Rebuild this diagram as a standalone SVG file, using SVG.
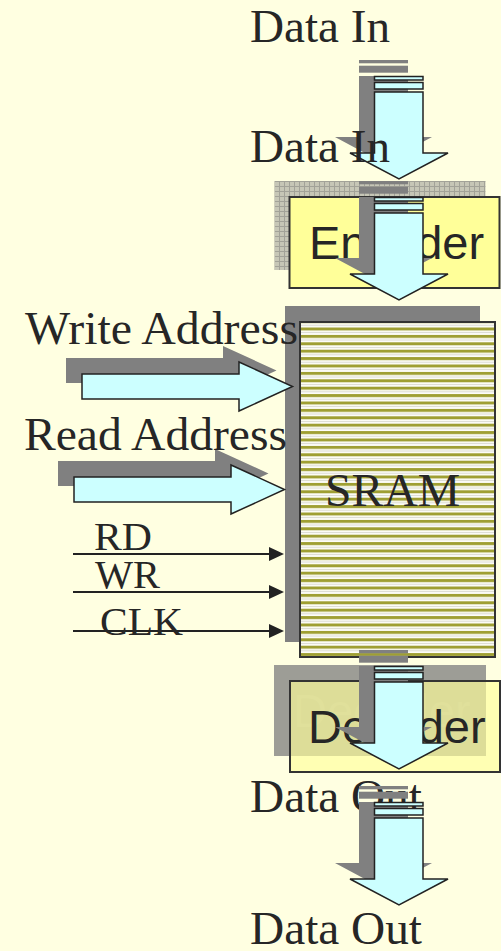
<svg xmlns="http://www.w3.org/2000/svg" xmlns:xlink="http://www.w3.org/1999/xlink" width="501" height="951" viewBox="0 0 501 951">
  <style>
    .serif { font-family: "Liberation Serif", "Times New Roman", serif; fill: #262626; }
    .big { font-size: 47px; }
    .small { font-size: 40px; }
    .sans { font-family: "Liberation Sans", Arial, sans-serif; font-size: 47px; fill: #262626; }
    .light { fill: #ccffff; stroke: #222; stroke-width: 1.5; stroke-linejoin: miter; }
    .shade { fill: #808080; }
    .box { stroke: #333; stroke-width: 2; }
    .ctl { stroke: #222; stroke-width: 2; fill: none; }
  </style>
  <defs>
    <!-- striped fill of the memory block -->
    <pattern id="stripes" patternUnits="userSpaceOnUse" x="0" y="327.5" width="10" height="7.4">
      <rect width="10" height="7.4" fill="#fdfdf8"/>
      <rect y="0" width="10" height="3" fill="#9f9f33"/>
      <rect y="4.7" width="10" height="0.9" fill="#d8d8ce"/>
    </pattern>
    <!-- checkered shadow of the encoder -->
    <pattern id="checks" patternUnits="userSpaceOnUse" x="274" y="181" width="5" height="5">
      <rect width="5" height="5" fill="#a2a298"/>
      <rect x="1" y="1" width="4" height="4" fill="#c6c6b6"/>
    </pattern>
    <marker id="tri" markerUnits="userSpaceOnUse" viewBox="0 0 15 14" refX="7" refY="7" markerWidth="15" markerHeight="14" orient="auto">
      <path d="M0,0 L15,7 L0,14 Z" fill="#222"/>
    </marker>
    <!-- striped block arrow pointing down, with its drop shadow -->
    <g id="down-arrow">
      <g class="shade">
        <rect x="359" y="60" width="49" height="3.3"/>
        <rect x="359" y="65.7" width="49" height="7"/>
        <polygon points="359,76 408,76 408,137 432,137 383.5,163 335,137 359,137"/>
      </g>
      <rect class="light" x="374.5" y="76.5" width="48.5" height="3.5"/>
      <rect class="light" x="374.5" y="82.5" width="48.5" height="6.5"/>
      <polygon class="light" points="374.5,92 423,92 423,153 448,153 399,179 350,153 374.5,153"/>
    </g>
    <!-- block arrow pointing right, with its drop shadow -->
    <g id="right-arrow">
      <polygon class="shade" points="66,358 223,358 223,346 276.5,370.5 223,395 223,383 66,383"/>
      <polygon class="light" points="82,374 239,374 239,362 292.5,386.5 239,411 239,399 82,399"/>
    </g>
  </defs>

  <rect width="501" height="951" fill="#ffffe1"/>

  <g id="encoder">
    <rect x="274.5" y="181" width="211" height="89" fill="url(#checks)"/>
    <rect class="box" x="289.5" y="197" width="210" height="91" fill="#ffff99"/>
    <text class="sans" x="309" y="259">Encoder</text>
  </g>

  <g id="sram">
    <rect class="shade" x="285" y="306" width="195" height="336"/>
    <rect class="box" x="300" y="322" width="195" height="335" fill="url(#stripes)"/>
    <text class="serif big" x="325" y="506" textLength="135" lengthAdjust="spacingAndGlyphs">SRAM</text>
  </g>

  <g id="decoder">
    <rect x="274" y="665" width="212" height="91" fill="#9d9d96"/>
    <text class="sans" x="293" y="727" style="fill:#a6a69d">Decoder</text>
    <rect class="box" x="290" y="681" width="210" height="91" fill="#ffff99" fill-opacity="0.65"/>
    <text class="sans" x="308" y="743">Decoder</text>
  </g>

  <g id="data-in-top">
    <text class="serif big" x="250" y="42" textLength="140" lengthAdjust="spacingAndGlyphs">Data In</text>
  </g>
  <g id="data-out">
    <text class="serif big" x="250" y="812" textLength="172" lengthAdjust="spacingAndGlyphs">Data Out</text>
  </g>

  <g id="connectors">
    <use xlink:href="#down-arrow"/>
    <use xlink:href="#down-arrow" transform="translate(0,121)"/>
    <use xlink:href="#down-arrow" transform="translate(0,590)"/>
    <use xlink:href="#down-arrow" transform="translate(0,726)"/>
    <use xlink:href="#right-arrow"/>
    <use xlink:href="#right-arrow" transform="translate(-8,103)"/>
    <line class="ctl" x1="73" y1="554" x2="276" y2="554" marker-end="url(#tri)"/>
    <line class="ctl" x1="73" y1="592" x2="276" y2="592" marker-end="url(#tri)"/>
    <line class="ctl" x1="73" y1="631" x2="276" y2="631" marker-end="url(#tri)"/>
  </g>

  <g id="data-in">
    <text class="serif big" x="250" y="162" textLength="140" lengthAdjust="spacingAndGlyphs">Data In</text>
  </g>
  <g id="write-address">
    <text class="serif big" x="25" y="344" textLength="273" lengthAdjust="spacingAndGlyphs">Write Address</text>
  </g>
  <g id="read-address">
    <text class="serif big" x="24" y="450" textLength="263" lengthAdjust="spacingAndGlyphs">Read Address</text>
  </g>
  <g id="rd">
    <text class="serif small" x="94" y="550" textLength="58" lengthAdjust="spacingAndGlyphs">RD</text>
  </g>
  <g id="wr">
    <text class="serif small" x="95" y="588" textLength="65" lengthAdjust="spacingAndGlyphs">WR</text>
  </g>
  <g id="clk">
    <text class="serif small" x="100" y="635" textLength="83" lengthAdjust="spacingAndGlyphs">CLK</text>
  </g>
  <g id="data-out-bottom">
    <text class="serif big" x="250" y="944" textLength="172" lengthAdjust="spacingAndGlyphs">Data Out</text>
  </g>
</svg>
